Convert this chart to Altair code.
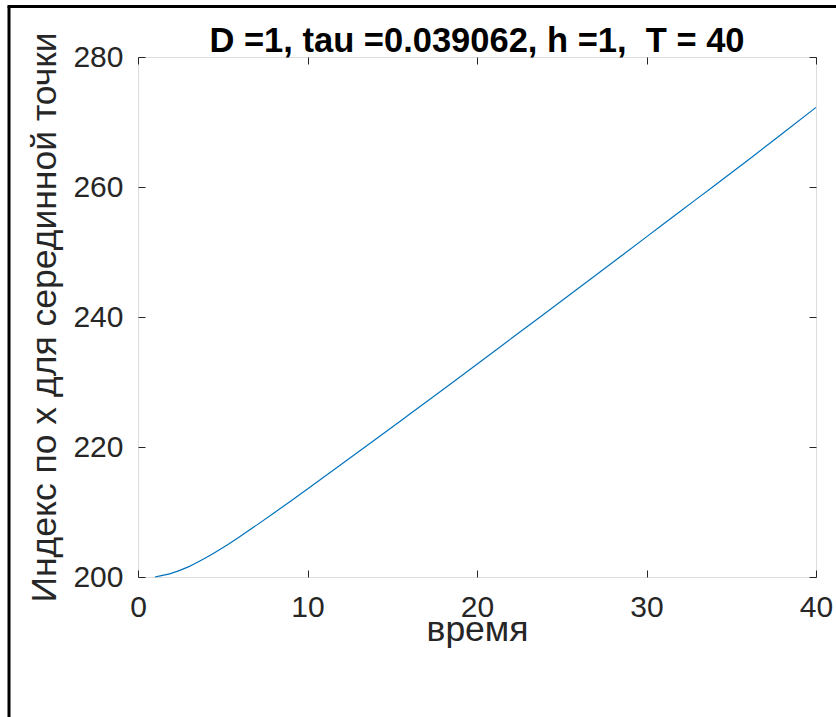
import altair as alt
import pandas as pd

# --- data ---
time = [1, 2, 3, 4, 5, 6, 7, 8, 9, 10, 12, 14, 16, 18, 20, 22, 24, 26, 28, 30,
        32, 34, 36, 38, 40]
index_x = [200.0, 200.6, 201.6, 202.95, 204.5, 206.2, 207.98, 209.81, 211.67, 213.55,
           217.33, 221.15, 225.0, 228.86, 232.74, 236.64, 240.55, 244.47, 248.4, 252.33,
           256.27, 260.2, 264.15, 268.2, 272.25]
x_ticks = [0, 10, 20, 30, 40]
y_ticks = [200, 220, 240, 260, 280]

title_text = "D =1, tau =0.039062, h =1,\u00a0 T = 40"
x_title = "время"
y_title = "Индекс по х для серединной точки"

df = pd.DataFrame({"t": time, "v": index_x})

FONT = "Liberation Sans"
TXT = "#262626"
AX = "#262626"
W, H = 678, 520

xscale = alt.Scale(domain=[0, 40], nice=False, zero=False)
yscale = alt.Scale(domain=[200, 280], nice=False, zero=False)

common_axis = dict(grid=False, domain=False, tickSize=7, offset=-7, tickColor=AX,
                   tickWidth=1, labelFont=FONT, labelFontSize=30, labelColor=TXT,
                   labelFlush=False, labelOverlap=False,
                   titleFont=FONT, titleFontSize=35.5, titleColor=TXT,
                   titleFontWeight="normal")

line = alt.Chart(df).mark_line(color="#0072BD", strokeWidth=1.2,
                               interpolate="monotone").encode(
    x=alt.X("t:Q", scale=xscale,
            axis=alt.Axis(values=x_ticks, title=x_title, labelPadding=15,
                          titleBaseline="alphabetic", titleY=70, **common_axis)),
    y=alt.Y("v:Q", scale=yscale,
            axis=alt.Axis(values=y_ticks, title=y_title, labelPadding=15, titlePadding=10,
                          **common_axis)),
)

mirror_axis = dict(grid=False, domain=False, tickSize=7, offset=-7, tickColor=AX,
                   tickWidth=1, labels=False, title=None)

mirror = alt.Chart(df).mark_point(opacity=0).encode(
    x=alt.X("t:Q", scale=xscale, axis=alt.Axis(orient="top", values=x_ticks, **mirror_axis)),
    y=alt.Y("v:Q", scale=yscale, axis=alt.Axis(orient="right", values=y_ticks, **mirror_axis)),
)

frame_src = alt.Data(values=[{"k": 1}])
frame_left = alt.Chart(frame_src).mark_rule(color="black", strokeWidth=3).encode(
    x=alt.value(-129), y=alt.value(-50.5), y2=alt.value(717 - 57)
)
frame_top = alt.Chart(frame_src).mark_rule(color="black", strokeWidth=3).encode(
    x=alt.value(-130.5), x2=alt.value(836 - 138), y=alt.value(-50.5)
)

chart = alt.layer(line, mirror, frame_left, frame_top).resolve_axis(
    x="independent", y="independent"
).properties(
    width=W, height=H,
    title=alt.TitleParams(title_text, font=FONT, fontSize=34.5, fontWeight="bold",
                          color="black", anchor="middle", frame="group",
                          baseline="alphabetic", offset=0, dy=81),
    autosize=alt.AutoSizeParams(type="none"),
    padding={"left": 138, "top": 57, "right": 20, "bottom": 140},
).configure_view(stroke=AX, strokeWidth=1).configure(background="white")

chart.save("out.html", embed_options={"renderer": "svg", "actions": False})
